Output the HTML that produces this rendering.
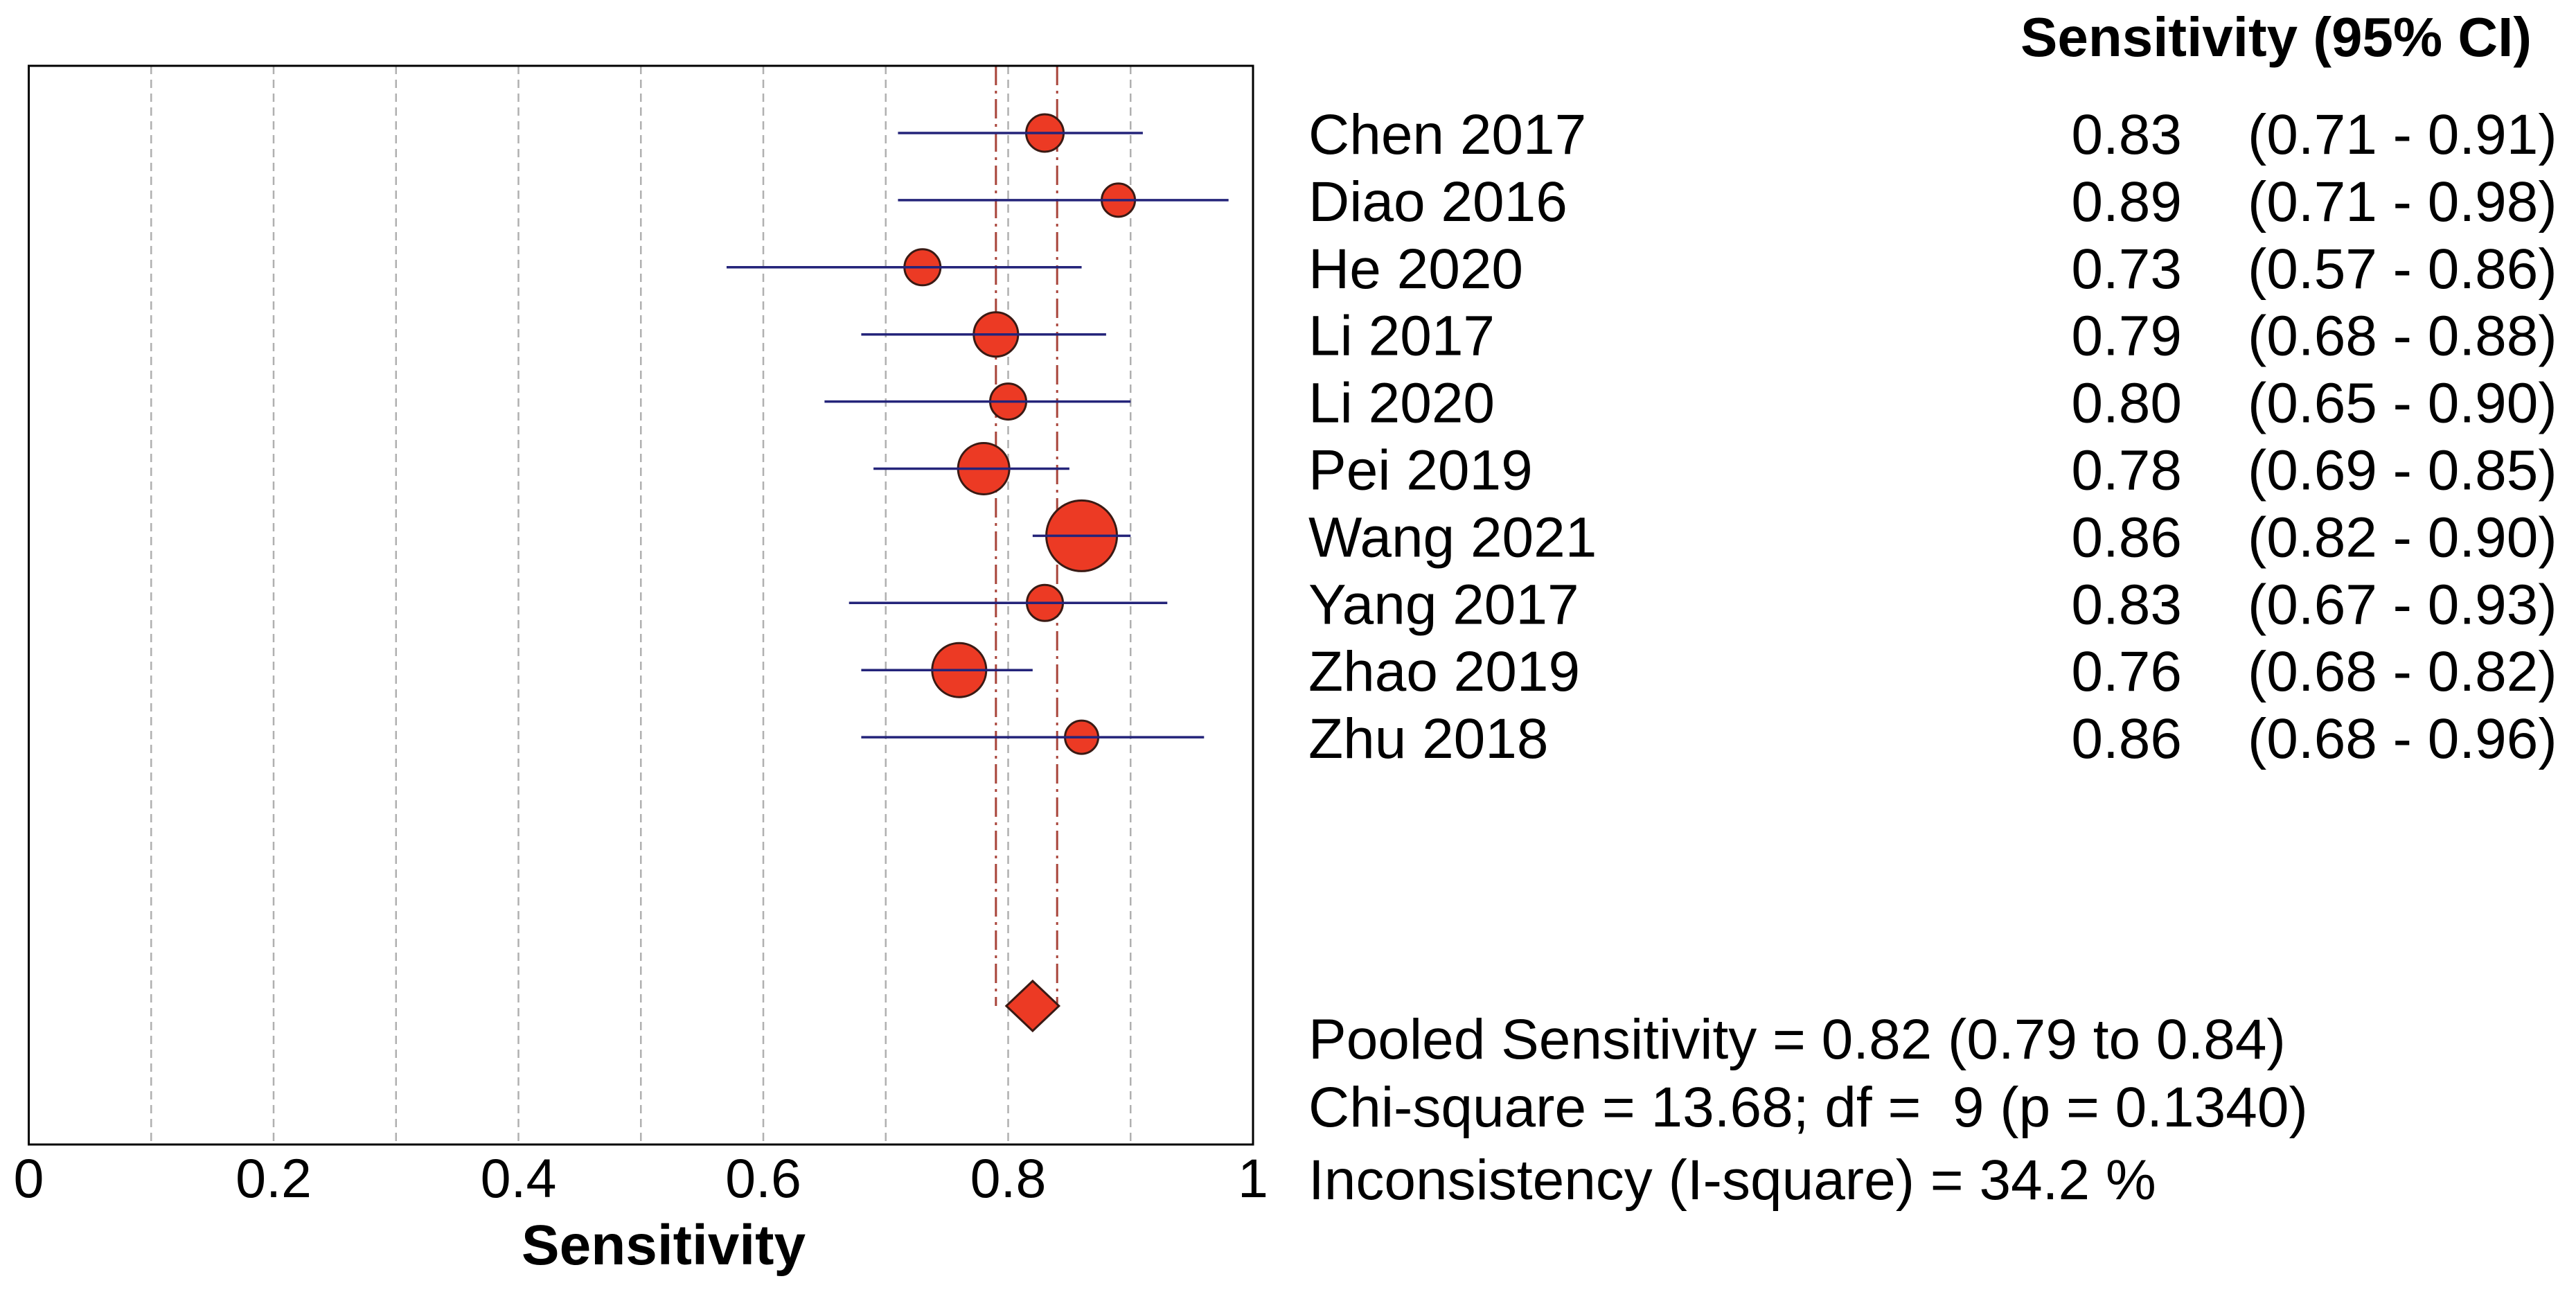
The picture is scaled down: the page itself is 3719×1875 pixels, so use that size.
<!DOCTYPE html>
<html><head><meta charset="utf-8"><style>
html,body{margin:0;padding:0;background:#fff;}
svg{display:block;font-family:"Liberation Sans",Arial,sans-serif;}
</style></head><body>
<svg id="chart" width="3719" height="1875" viewBox="0 0 3719 1875" xmlns="http://www.w3.org/2000/svg">
<rect width="3719" height="1875" fill="#fff"/>
<g id="grid"></g>
<g id="marks"></g>
<rect x="41.5" y="95" width="1767.5" height="1557" fill="none" stroke="#000" stroke-width="3"/>
<g id="ticks" font-size="79" fill="#000"></g>
<text x="958" y="1825" font-size="82" font-weight="bold" text-anchor="middle">Sensitivity</text>
<text x="3655" y="81" font-size="80" font-weight="bold" text-anchor="end">Sensitivity (95% CI)</text>
<g id="table" font-size="82" fill="#000"></g>
<text x="1889" y="1528" font-size="82">Pooled Sensitivity = 0.82 (0.79 to 0.84)</text>
<text x="1889" y="1626" font-size="82" xml:space="preserve">Chi-square = 13.68; df =  9 (p = 0.1340)</text>
<text x="1889" y="1731" font-size="82">Inconsistency (I-square) = 34.2 %</text>
</svg>
<script>
const studies = ["Chen 2017","Diao 2016","He 2020","Li 2017","Li 2020","Pei 2019","Wang 2021","Yang 2017","Zhao 2019","Zhu 2018"];
const sens = [0.83,0.89,0.73,0.79,0.80,0.78,0.86,0.83,0.76,0.86];
const lower = [0.71,0.71,0.57,0.68,0.65,0.69,0.82,0.67,0.68,0.68];
const upper = [0.91,0.98,0.86,0.88,0.90,0.85,0.90,0.93,0.82,0.96];
const weights = [27,24,26,32,26,37,51,26,39,24];
const pooled = [0.82,0.79,0.84];
const tickVals = [0,0.2,0.4,0.6,0.8,1];
const tickLabels = ["0","0.2","0.4","0.6","0.8","1"];

const NS="http://www.w3.org/2000/svg";
const X0=41.5,X1=1809,Y0=95,Y1=1652;
const x=v=>X0+v*(X1-X0);
const rowY=i=>192+i*96.9;
const diamondY=1452;
function mk(tag,attrs,parent){const e=document.createElementNS(NS,tag);for(const k in attrs)e.setAttribute(k,attrs[k]);parent.appendChild(e);return e;}
const grid=document.getElementById('grid'),marks=document.getElementById('marks'),ticks=document.getElementById('ticks'),table=document.getElementById('table');
for(let g=1;g<10;g++){
  const l=mk('line',{x1:x(g/10),x2:x(g/10),y1:Y0,y2:Y1,stroke:'#b0b0b0','stroke-width':2.5,'stroke-dasharray':'12,8'},grid);
  
  
}
[pooled[1],pooled[2]].forEach(v=>{
  const l=mk('line',{x1:x(v),x2:x(v),y1:Y0,y2:diamondY,stroke:'#a8443a','stroke-width':3,'stroke-dasharray':'28,8,4,8'},grid);
  
  
});
studies.forEach((s,i)=>{
  const y=rowY(i);
  const c=mk('circle',{cx:x(sens[i]),cy:y,r:weights[i],fill:'#ec3a24',stroke:'#3a1a14','stroke-width':3},marks);
  
  
  const l=mk('line',{x1:x(lower[i]),x2:x(upper[i]),y1:y,y2:y,stroke:'#24247a','stroke-width':3.5},marks);
  
  
  const n=mk('text',{x:1889,y:y+30},table);n.textContent=s;
  
  
  const v=mk('text',{x:3150,y:y+30,'text-anchor':'end'},table);v.textContent=sens[i].toFixed(2);
  
  
  const ci=mk('text',{x:3245,y:y+30},table);ci.textContent='('+lower[i].toFixed(2)+' - '+upper[i].toFixed(2)+')';
  
  
});
const cx=x(pooled[0]);
const d=mk('polygon',{points:`${cx-38},${diamondY} ${cx},${diamondY-36} ${cx+38},${diamondY} ${cx},${diamondY+36}`,fill:'#ec3a24',stroke:'#3a1a14','stroke-width':3},marks);


tickVals.forEach((v,i)=>{
  const t=mk('text',{x:x(v),y:1728,'text-anchor':'middle'},ticks);t.textContent=tickLabels[i];
  
  
});
</script>
</body></html>
